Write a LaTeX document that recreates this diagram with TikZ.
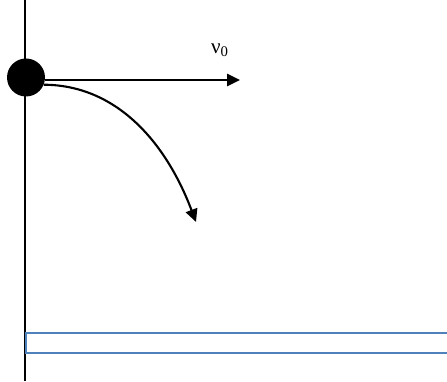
\documentclass[tikz,border=0pt]{standalone}
\usepackage{fontspec}
\setmainfont{Liberation Serif}
\usepackage{tikz}
\usetikzlibrary{positioning,arrows.meta}

\definecolor{floorblue}{HTML}{4F81BD}

\begin{document}
\begin{tikzpicture}[
    ball/.style={circle, fill=black, inner sep=0pt, minimum size=0.95cm},
    arrow/.style={-{Triangle[length=0.32cm, width=0.3cm]}, line width=1.5pt},
    wall/.style={line width=1.5pt},
    floor/.style={draw=floorblue, line width=1.3pt, fill=white},
    lbl/.style={font=\fontsize{15}{18}\selectfont}
]
\useasboundingbox (0,0) rectangle (11.175,9.525);
\coordinate (top) at (0.625,9.525);
\coordinate (bot) at (0.625,0);
\draw[wall] (top) -- (bot);
\node[floor, minimum width=11cm, minimum height=0.5cm, anchor=south west] (ground) at (0.625,0.675) {};
\node[ball] (ball) at (0.65,7.5875) {};
\coordinate (vend) at (6.0,7.525);
\draw[arrow] (ball.east |- vend) -- (vend);
\node[lbl] (v0) at (5.5,8.275) {ν\textsubscript{0}};
\coordinate (fall) at (4.9,3.975);
\draw[arrow] (ball.-22) .. controls (2.875,7.4) and (4.125,6.025) .. (fall);
\end{tikzpicture}
\end{document}
